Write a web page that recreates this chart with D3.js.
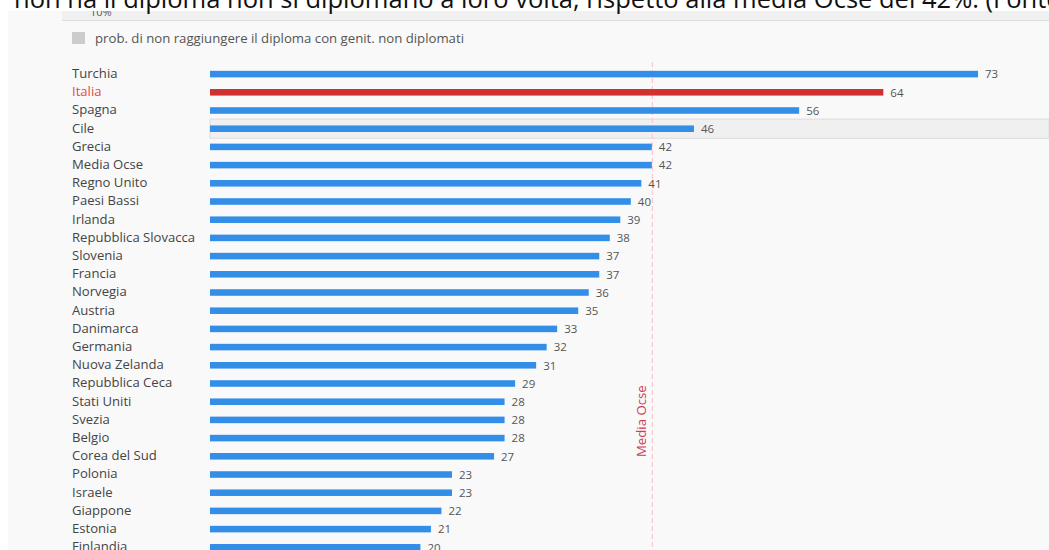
<!DOCTYPE html>
<html>
<head>
<meta charset="utf-8">
<title></title>
<style>
  body { margin: 0; background: #fff; overflow: hidden; }
  svg { display: block; }
</style>
</head>
<body>
<script src="https://d3js.org/d3.v7.min.js"></script>
<script>

// data
var countries = ["Turchia", "Italia", "Spagna", "Cile", "Grecia", "Media Ocse", "Regno Unito",
    "Paesi Bassi", "Irlanda", "Repubblica Slovacca", "Slovenia", "Francia", "Norvegia", "Austria",
    "Danimarca", "Germania", "Nuova Zelanda", "Repubblica Ceca", "Stati Uniti", "Svezia", "Belgio",
    "Corea del Sud", "Polonia", "Israele", "Giappone", "Estonia", "Finlandia"];
var values = [73, 64, 56, 46, 42, 42, 41, 40, 39, 38, 37, 37, 36, 35, 33, 32, 31, 29, 28, 28, 28,
    27, 23, 23, 22, 21, 20];
var oecdAverage = 42;
var highlighted = "Italia";
var hovered = "Cile";
var legendLabel = "prob. di non raggiungere il diploma con genit. non diplomati";
var refLabel = "Media Ocse";
var headline = "non ha il diploma non si diplomano a loro volta, rispetto alla media Ocse del 42%. (Fonte: Ocse)";

var W = 1049, H = 550;
var font = "'Open Sans', sans-serif";

var svg = d3.select("body").append("svg")
    .attr("width", W)
    .attr("height", H);

// panel background
svg.append("rect").attr("x", 8).attr("y", 11).attr("width", W - 8).attr("height", H - 11)
    .attr("fill", "#f9f9f9");
svg.append("rect").attr("x", 62).attr("y", 11).attr("width", W - 62).attr("height", 9)
    .attr("fill", "#f0f0f0");
svg.append("line").attr("x1", 62).attr("x2", W).attr("y1", 20.5).attr("y2", 20.5)
    .attr("stroke", "#dcdcdc");
svg.append("text").attr("x", 90).attr("y", 16).text("10%")
    .style("font-family", font).style("font-size", "11px").attr("fill", "#556");

// legend
svg.append("rect").attr("x", 72).attr("y", 32).attr("width", 13).attr("height", 12).attr("fill", "#cccccc");
svg.append("text").attr("x", 95).attr("y", 38).attr("dy", "0.35em").text(legendLabel)
    .style("font-family", font).style("font-size", "13.2px").attr("fill", "#555");

// scales
var x = d3.scaleLinear().domain([0, 73]).range([210, 978]);
var y = d3.scaleBand().domain(countries).range([65, 65 + 18.2 * countries.length]).paddingInner(0.64).paddingOuter(0.32);

// hovered row band
var step = y.step();
svg.append("rect")
    .attr("x", 210).attr("y", y(hovered) + y.bandwidth() / 2 - step / 2 - 0.5)
    .attr("width", W - 210).attr("height", step + 1)
    .attr("fill", "#f0f0f0").attr("stroke", "#dcdcdc");

// average line
svg.append("line")
    .attr("x1", x(oecdAverage) + 0.5).attr("x2", x(oecdAverage) + 0.5)
    .attr("y1", 62).attr("y2", H)
    .attr("stroke", "#f9c9d1").attr("stroke-width", 1.2).attr("stroke-dasharray", "5,3");
svg.append("text")
    .attr("transform", "translate(" + (x(oecdAverage) - 6) + ",457) rotate(-90)")
    .text(refLabel)
    .style("font-family", font).style("font-size", "13.2px").attr("fill", "#d03a55");

// bars
var rows = countries.map(function(c, i) { return { name: c, value: values[i] }; });

svg.selectAll(".bar").data(rows).enter().append("rect")
    .attr("class", "bar")
    .attr("x", x(0))
    .attr("y", function(d) { return y(d.name); })
    .attr("width", function(d) { return x(d.value) - x(0); })
    .attr("height", y.bandwidth())
    .attr("fill", function(d) { return d.name === highlighted ? "#d0302e" : "#338ee8"; });

// country labels
svg.selectAll(".lbl").data(rows).enter().append("text")
    .attr("class", "lbl")
    .attr("x", 72)
    .attr("y", function(d) { return y(d.name) + y.bandwidth() / 2; })
    .attr("dy", "0.3em")
    .text(function(d) { return d.name; })
    .style("font-family", font).style("font-size", "13.1px")
    .attr("fill", function(d) { return d.name === highlighted ? "#e04a4e" : "#444"; });

// value labels
svg.selectAll(".val").data(rows).enter().append("text")
    .attr("class", "val")
    .attr("x", function(d) { return x(d.value) + 7; })
    .attr("y", function(d) { return y(d.name) + y.bandwidth() / 2; })
    .attr("dy", "0.38em")
    .text(function(d) { return d.value; })
    .style("font-family", font).style("font-size", "11.5px").attr("fill", "#555");

// page text above the chart, clipped at the top
svg.append("rect").attr("x", 0).attr("y", 0).attr("width", W).attr("height", 11).attr("fill", "#fff");
svg.append("text").attr("x", 14).attr("y", 8).text(headline)
    .style("font-family", font).style("font-size", "25.5px").attr("fill", "#111");

</script>
</body>
</html>
